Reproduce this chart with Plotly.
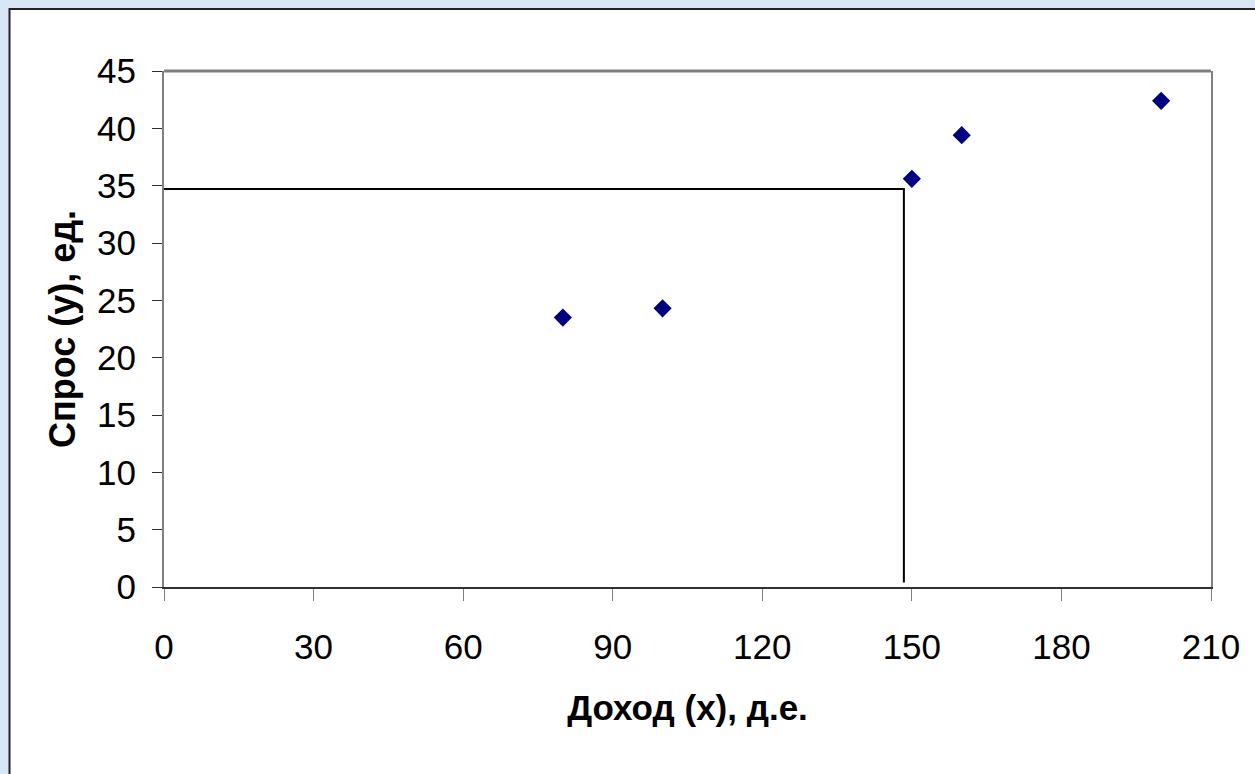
import plotly.graph_objects as go

# Data
income = [80, 100, 150, 160, 200]
demand = [23.5, 24.3, 35.6, 39.4, 42.4]
guide_x = [0, 148.4, 148.4]
guide_y = [34.7, 34.7, 0.4]
x_ticks = [0, 30, 60, 90, 120, 150, 180, 210]
y_ticks = [0, 5, 10, 15, 20, 25, 30, 35, 40, 45]

W, H = 1255, 774
L, R, T, B = 164, 44, 71, 187
pw, ph = W - L - R, H - T - B

def px2x(p):
    return (p - L) / pw

def px2y(p):
    return (H - B - p) / ph

FONT = "Liberation Sans, Arial, sans-serif"

fig = go.Figure()
fig.add_trace(go.Scatter(
    x=guide_x, y=guide_y, mode="lines",
    line=dict(color="black", width=2), hoverinfo="skip", showlegend=False))
fig.add_trace(go.Scatter(
    x=income, y=demand, mode="markers",
    marker=dict(symbol="diamond", size=14, color="#000080"),
    showlegend=False))

fig.add_shape(type="rect", xref="paper", yref="paper",
              x0=px2x(9.5), x1=px2x(W + 10), y0=px2y(H + 10), y1=px2y(9),
              line=dict(color="#222222", width=2), fillcolor="white", layer="below")
fig.add_shape(type="line", xref="paper", yref="paper",
              x0=0, x1=1, y0=1, y1=1, line=dict(color="#808080", width=3))

fig.update_layout(
    width=W, height=H,
    margin=dict(l=L, r=R, t=T, b=B, pad=0),
    paper_bgcolor="#d9e6f5",
    plot_bgcolor="white",
    font=dict(family=FONT, size=35, color="black"),
    xaxis=dict(
        range=[0, 210], tickvals=x_ticks, showgrid=False, zeroline=False,
        showline=True, linecolor="#303030", linewidth=2,
        ticks="outside", ticklen=12, tickwidth=1, tickcolor="#808080",
        ticklabelstandoff=16,
        title=dict(text="<b>Доход (х), д.е.</b>", font=dict(family=FONT, size=35), standoff=30),
    ),
    yaxis=dict(
        range=[0, 45], tickvals=y_ticks, showgrid=False, zeroline=False,
        showline=True, linecolor="#808080", linewidth=2, mirror=True,
        ticks="outside", ticklen=10, tickwidth=1, tickcolor="#303030",
        ticklabelstandoff=9,
        title=dict(text="<b>Спрос (у), ед.</b>", font=dict(family=FONT, size=36), standoff=10),
    ),
)

fig.write_html("out.html")
